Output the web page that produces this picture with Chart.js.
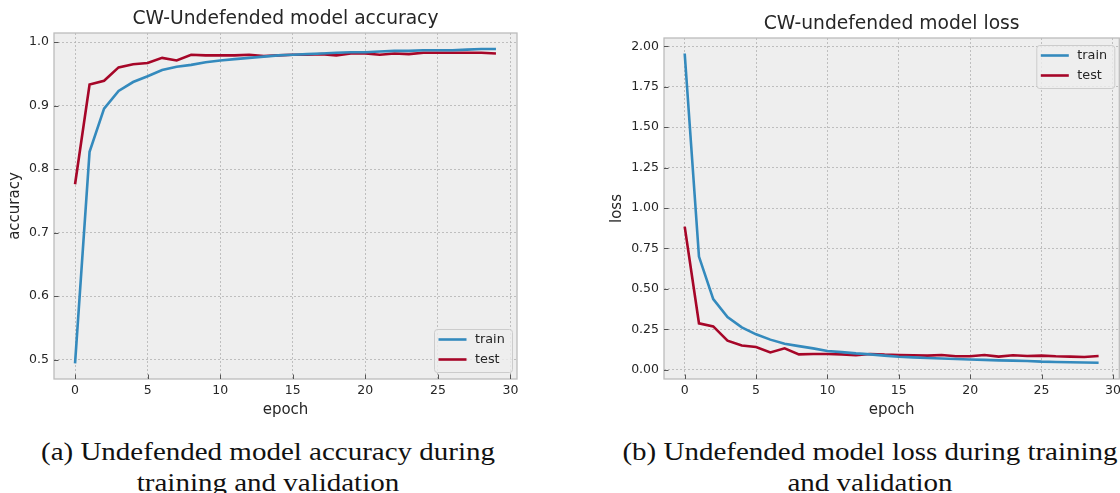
<!DOCTYPE html>
<html>
<head>
<meta charset="utf-8">
<script src="https://cdn.jsdelivr.net/npm/chart.js@4.4.1/dist/chart.umd.min.js"></script>
<style>
  html, body { margin: 0; padding: 0; background: #fff; width: 1120px; height: 493px; overflow: hidden; }
  .wrap { position: absolute; top: 0; }
  .cap { position: absolute; font-family: "Liberation Serif", serif; font-size: 26px; color: #111;
         text-align: center; line-height: 31px; white-space: nowrap;
         transform: scaleX(1.115); transform-origin: 50% 0; }
</style>
</head>
<body>
<div class="wrap" style="left:0;width:540px;height:425px"><canvas id="acc"></canvas></div>
<div class="wrap" style="left:600px;width:525px;height:425px"><canvas id="loss"></canvas></div>
<div class="cap" style="left:0;width:536px;top:436px">(a) Undefended model accuracy during<br>training and validation</div>
<div class="cap" style="left:600px;width:540px;top:436px">(b) Undefended model loss during training<br>and validation</div>
<script>
// values
const epochs = [0, 1, 2, 3, 4, 5, 6, 7, 8, 9, 10, 11, 12, 13, 14, 15, 16, 17, 18, 19, 20, 21, 22, 23, 24, 25, 26, 27, 28, 29];
const accTrain = [0.494, 0.827, 0.895, 0.923, 0.937, 0.946, 0.956, 0.961, 0.964, 0.968, 0.971, 0.973, 0.975, 0.977, 0.979,
                  0.980, 0.981, 0.982, 0.983, 0.984, 0.984, 0.985, 0.986, 0.986, 0.987, 0.987, 0.987, 0.988, 0.989, 0.989];
const accTest = [0.776, 0.933, 0.939, 0.960, 0.965, 0.967, 0.975, 0.971, 0.980, 0.979, 0.979, 0.979, 0.980, 0.978, 0.979,
                 0.980, 0.980, 0.981, 0.979, 0.982, 0.982, 0.980, 0.982, 0.981, 0.983, 0.983, 0.983, 0.983, 0.983, 0.982];
const lossTrain = [1.956, 0.700, 0.437, 0.326, 0.262, 0.219, 0.186, 0.161, 0.146, 0.132, 0.116, 0.109, 0.101, 0.095, 0.087,
                   0.080, 0.076, 0.072, 0.069, 0.066, 0.063, 0.061, 0.058, 0.056, 0.054, 0.050, 0.048, 0.046, 0.045, 0.043];
const lossTest = [0.885, 0.287, 0.268, 0.180, 0.150, 0.140, 0.107, 0.132, 0.095, 0.097, 0.097, 0.095, 0.089, 0.097, 0.093,
                  0.091, 0.089, 0.087, 0.091, 0.083, 0.083, 0.091, 0.081, 0.089, 0.085, 0.087, 0.083, 0.081, 0.079, 0.085];

const epochTicks = [0, 5, 10, 15, 20, 25, 30];
const accTicks = [0.5, 0.6, 0.7, 0.8, 0.9, 1.0];
const lossTicks = [0, 0.25, 0.5, 0.75, 1.0, 1.25, 1.5, 1.75, 2.0];

const BLUE = '#348ABD';
const RED = '#A60628';
const TXT = '#262626';
const FONT = 'DejaVu Sans';

const toXY = (ys) => ys.map((y, i) => ({ x: epochs[i], y: y }));

// matplotlib (bmh) look: grey plot face, frame, inward ticks, title over the axes, boxed legend
const bmhPlugin = {
  id: 'bmh',
  beforeDraw(chart) {
    const { ctx, chartArea: a } = chart;
    ctx.save();
    ctx.fillStyle = '#eeeeee';
    ctx.fillRect(a.left, a.top, a.width, a.height);
    ctx.restore();
  },
  afterDraw(chart, args, opts) {
    const { ctx, chartArea: a } = chart;
    const xs = chart.scales.x, ys = chart.scales.y;
    ctx.save();
    ctx.strokeStyle = '#bcbcbc';
    ctx.lineWidth = 1.3;
    ctx.strokeRect(a.left, a.top, a.width, a.height);

    ctx.strokeStyle = '#555';
    ctx.lineWidth = 1;
    ys.ticks.forEach(t => {
      const py = Math.round(ys.getPixelForValue(t.value)) + 0.5;
      ctx.beginPath(); ctx.moveTo(a.left, py); ctx.lineTo(a.left + 4.5, py); ctx.stroke();
    });
    xs.ticks.forEach(t => {
      const px = Math.round(xs.getPixelForValue(t.value)) + 0.5;
      ctx.beginPath(); ctx.moveTo(px, a.bottom); ctx.lineTo(px, a.bottom - 4.5); ctx.stroke();
    });

    // title, centred on the plot area
    ctx.fillStyle = TXT;
    ctx.font = '18.7px "' + FONT + '"';
    ctx.textAlign = 'center';
    ctx.textBaseline = 'middle';
    ctx.fillText(opts.title, (a.left + a.right) / 2, a.top - opts.titleGap);

    // legend
    const w = 78, h = 43;
    const bx = a.right - 5 - w;
    const by = opts.corner === 'top' ? a.top + 7 : a.bottom - 7 - h;
    ctx.fillStyle = 'rgba(238,238,238,0.8)';
    ctx.strokeStyle = '#cccccc';
    ctx.lineWidth = 1;
    ctx.beginPath();
    ctx.roundRect(bx + 0.5, by + 0.5, w, h, 3);
    ctx.fill(); ctx.stroke();
    ctx.font = '12.8px "' + FONT + '"';
    ctx.textAlign = 'left';
    chart.data.datasets.forEach((ds, i) => {
      const ry = by + 10.5 + i * 20;
      ctx.strokeStyle = ds.borderColor;
      ctx.lineWidth = 2.6;
      ctx.beginPath(); ctx.moveTo(bx + 4.5, ry); ctx.lineTo(bx + 32.5, ry); ctx.stroke();
      ctx.fillStyle = TXT;
      ctx.fillText(ds.label, bx + 41, ry);
    });
    ctx.restore();
  }
};

function makeChart(id, title, yLabel, train, test, yTicks, yMin, yMax, digits, corner, cfg) {
  return new Chart(document.getElementById(id).getContext('2d'), {
    type: 'line',
    data: {
      datasets: [
        { label: 'train', data: toXY(train), borderColor: BLUE, borderWidth: 2.6, pointRadius: 0, tension: 0 },
        { label: 'test', data: toXY(test), borderColor: RED, borderWidth: 2.6, pointRadius: 0, tension: 0 },
      ],
    },
    options: {
      responsive: true,
      maintainAspectRatio: false,
      animation: false,
      layout: { padding: { left: 0, right: cfg.right, top: cfg.top, bottom: 0 } },
      plugins: {
        legend: { display: false },
        tooltip: { enabled: false },
        title: { display: false },
        bmh: { corner: corner, title: title, titleGap: cfg.titleGap },
      },
      scales: {
        x: {
          type: 'linear',
          min: -1.45,
          max: 30.45,
          afterBuildTicks: (axis) => { axis.ticks = epochTicks.map(v => ({ value: v })); },
          afterFit: (axis) => { axis.height = 46; },
          ticks: { color: TXT, font: { family: FONT, size: 12.5 }, padding: 4, maxRotation: 0 },
          grid: { color: '#b2b2b2', lineWidth: 0.8, drawTicks: false },
          border: { display: false, dash: [2, 2] },
          title: { display: true, text: 'epoch', color: TXT, font: { family: FONT, size: 15 }, padding: { top: 0, bottom: 6 } },
        },
        y: {
          min: yMin,
          max: yMax,
          afterBuildTicks: (axis) => { axis.ticks = yTicks.map(v => ({ value: v })); },
          afterFit: (axis) => { axis.width = cfg.yWidth; },
          ticks: { color: TXT, font: { family: FONT, size: 12.5 }, padding: 5, callback: (v) => v.toFixed(digits) },
          grid: { color: '#b2b2b2', lineWidth: 0.8, drawTicks: false },
          border: { display: false, dash: [2, 2] },
          title: { display: true, text: yLabel, color: TXT, font: { family: FONT, size: 15 }, padding: { top: cfg.yTitlePad, bottom: 0 } },
        },
      },
    },
    plugins: [bmhPlugin],
  });
}

makeChart('acc', 'CW-Undefended model accuracy', 'accuracy', accTrain, accTest, accTicks, 0.4693, 1.0142, 1, 'bottom',
  { right: 23, top: 33, titleGap: 14, yWidth: 54, yTitlePad: 6 });
makeChart('loss', 'CW-undefended model loss', 'loss', lossTrain, lossTest, lossTicks, -0.0575, 2.052, 2, 'top',
  { right: 5.7, top: 38, titleGap: 14, yWidth: 64, yTitlePad: 8 });
</script>
</body>
</html>
